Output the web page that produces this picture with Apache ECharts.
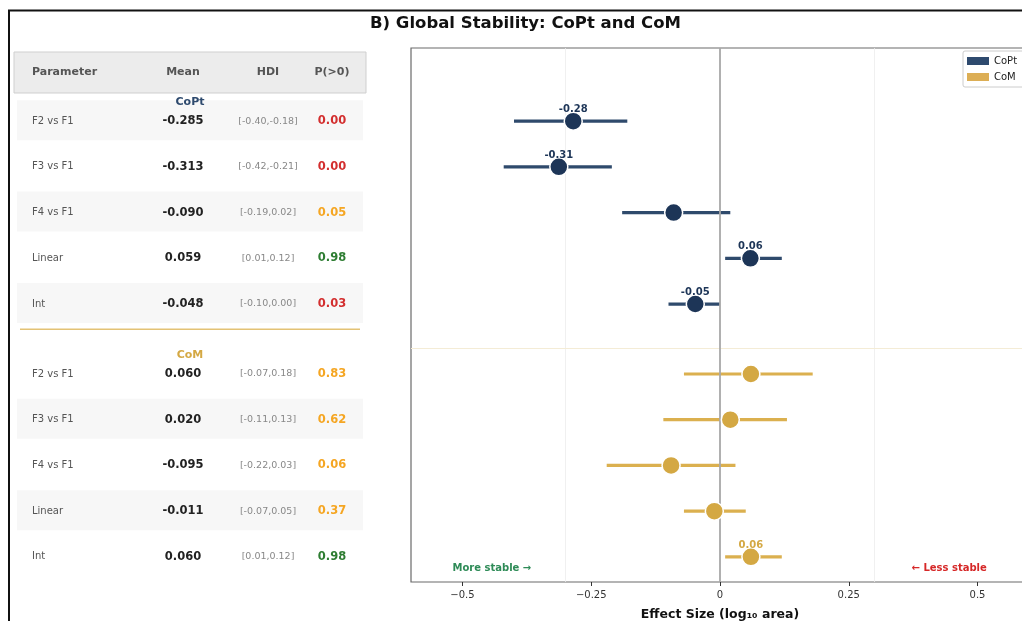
<!DOCTYPE html>
<html>
<head>
<meta charset="utf-8">
<script src="https://cdn.jsdelivr.net/npm/echarts@6/dist/echarts.min.js"></script>
<style>
  html, body { margin: 0; padding: 0; background: #fff; }
  #chart { width: 1022px; height: 621px; }
</style>
</head>
<body>
<div id="chart"></div>
<script>
// Posterior summaries per parameter (mean, 94% HDI bounds, probability of effect > 0)
const params = ['F2 vs F1', 'F3 vs F1', 'F4 vs F1', 'Linear', 'Int'];

const coptMean = [-0.285, -0.313, -0.090, 0.059, -0.048];
const coptLo   = [-0.40, -0.42, -0.19, 0.01, -0.10];
const coptHi   = [-0.18, -0.21, 0.02, 0.12, 0.00];
const coptP    = [0.00, 0.00, 0.05, 0.98, 0.03];

const comMean = [0.060, 0.020, -0.095, -0.011, 0.060];
const comLo   = [-0.07, -0.11, -0.22, -0.07, 0.01];
const comHi   = [0.18, 0.13, 0.03, 0.05, 0.12];
const comP    = [0.83, 0.62, 0.06, 0.37, 0.98];

const xTicks = [-0.5, -0.25, 0, 0.25, 0.5];

const FONT = 'DejaVu Sans';
const NAVY = '#1d3557', NAVY_LINE = '#2f4a6c';
const GOLD = '#d4a843', GOLD_LINE = '#dbb04f';

// vertical slot of each row: CoPt block first, CoM block after a half-row gap
const coptRows = params.map((_, i) => i);
const comRows = params.map((_, i) => i + 5.53);

function pColor(p) {
  if (p > 0.95) return '#2e7d32';
  if (p < 0.05) return '#d32f2f';
  return '#f5a623';
}
function credible(p) { return p > 0.95 || p < 0.05; }

function barData(lo, hi, rows) {
  return lo.map((v, i) => [v, hi[i], rows[i]]);
}
function dotData(mean, p, rows) {
  return mean.map((m, i) => ({ value: [m, rows[i]], label: { show: credible(p[i]) } }));
}
function errorBars(name, lo, hi, rows, color) {
  return {
    name: name,
    type: 'custom',
    silent: true,
    z: 3,
    encode: { x: [0, 1], y: 2 },
    data: barData(lo, hi, rows),
    renderItem: function (params, api) {
      const a = api.coord([api.value(0), api.value(2)]);
      const b = api.coord([api.value(1), api.value(2)]);
      return {
        type: 'line',
        shape: { x1: a[0], y1: a[1], x2: b[0], y2: b[1] },
        style: { stroke: color, lineWidth: 3.2, lineCap: 'butt' }
      };
    }
  };
}
function dots(name, mean, p, rows, color) {
  return {
    name: name,
    type: 'scatter',
    z: 5,
    symbol: 'circle',
    symbolSize: 18,
    itemStyle: { color: color, borderColor: '#fff', borderWidth: 1.5, opacity: 1 },
    label: {
      position: 'top', distance: -3,
      formatter: (d) => d.value[0].toFixed(2),
      color: color, fontFamily: FONT, fontWeight: 'bold', fontSize: 10
    },
    data: dotData(mean, p, rows)
  };
}

const chart = echarts.init(document.getElementById('chart'), null, { renderer: 'canvas' });

chart.setOption({
  animation: false,
  backgroundColor: '#fff',
  title: {
    text: 'B) Global Stability: CoPt and CoM',
    left: 365, top: 10,
    textStyle: { fontFamily: FONT, fontWeight: 'bold', fontSize: 16.5, color: '#111' }
  },
  legend: {
    orient: 'vertical',
    left: 963, top: 51,
    icon: 'rect',
    itemWidth: 22, itemHeight: 8, itemGap: 6,
    padding: [5, 40, 5, 4],
    backgroundColor: '#fff',
    borderColor: '#cccccc', borderWidth: 1, borderRadius: 2,
    textStyle: { fontFamily: FONT, fontSize: 10, color: '#222' },
    data: [
      { name: 'CoPt', itemStyle: { color: '#2e4a6e', borderWidth: 0 } },
      { name: 'CoM', itemStyle: { color: '#dcae55', borderWidth: 0 } }
    ]
  },
  grid: {
    left: 411, top: 48, width: 618, height: 534,
    outerBoundsMode: 'none', containLabel: false,
    show: true, borderColor: '#6a6a6a', borderWidth: 1.2, backgroundColor: '#fff'
  },
  xAxis: {
    type: 'value', min: -0.6, max: 0.6,
    name: 'Effect Size (log₁₀ area)',
    nameLocation: 'middle', nameGap: 26,
    nameTextStyle: { fontFamily: FONT, fontWeight: 'bold', fontSize: 12.5, color: '#111' },
    axisLine: { show: false, onZero: false },
    splitLine: { show: false },
    axisTick: { show: true, customValues: xTicks, length: 4, lineStyle: { color: '#333' } },
    axisLabel: {
      customValues: xTicks, margin: 8,
      fontFamily: FONT, fontSize: 10, color: '#333',
      formatter: (v) => (v === 0 ? '0' : String(v).replace('-', '−'))
    }
  },
  yAxis: {
    type: 'value', inverse: true, min: -1.6, max: 10.08,
    axisLine: { show: false, onZero: false }, axisTick: { show: false },
    axisLabel: { show: false }, splitLine: { show: false }
  },
  series: [
    {
      name: 'guides', type: 'line', data: [], silent: true, z: 1,
      markLine: {
        silent: true, symbol: 'none', animation: false,
        label: { show: false },
        data: [
          { xAxis: -0.3, lineStyle: { color: '#ececec', width: 0.8, type: 'solid' } },
          { xAxis: 0.3, lineStyle: { color: '#ececec', width: 0.8, type: 'solid' } },
          { yAxis: 4.97, lineStyle: { color: '#f4ecd6', width: 1, type: 'solid' } },
          { xAxis: 0, lineStyle: { color: '#a8a8a8', width: 1.8, type: 'solid' } }
        ]
      }
    },
    errorBars('CoPt HDI', coptLo, coptHi, coptRows, NAVY_LINE),
    errorBars('CoM HDI', comLo, comHi, comRows, GOLD_LINE),
    dots('CoPt', coptMean, coptP, coptRows, NAVY),
    dots('CoM', comMean, comP, comRows, GOLD)
  ]
});

// Summary table on the left, rows aligned with the forest plot rows
const yPix = (v) => chart.convertToPixel({ yAxisIndex: 0 }, v);
const xyPix = (x, y) => chart.convertToPixel({ gridIndex: 0 }, [x, y]);

const COL_NAME = 32, COL_MEAN = 183, COL_HDI = 268, COL_P = 332;
const g = [];

// outer figure frame
g.push({ type: 'rect', silent: true, z: 0,
  shape: { x: 9, y: 10.5, width: 1100, height: 700 },
  style: { fill: 'none', stroke: '#111', lineWidth: 2 } });

// header
g.push({ type: 'rect', shape: { x: 14, y: 52, width: 352, height: 41 },
  style: { fill: '#ececec', stroke: '#cfcfcf', lineWidth: 1 } });
const headStyle = { fontFamily: FONT, fontWeight: 'bold', fontSize: 11, fill: '#555', verticalAlign: 'middle' };
g.push({ type: 'text', x: COL_NAME, y: 72.5, style: Object.assign({ text: 'Parameter', align: 'left' }, headStyle) });
g.push({ type: 'text', x: COL_MEAN, y: 72.5, style: Object.assign({ text: 'Mean', align: 'center' }, headStyle) });
g.push({ type: 'text', x: COL_HDI, y: 72.5, style: Object.assign({ text: 'HDI', align: 'center' }, headStyle) });
g.push({ type: 'text', x: COL_P, y: 72.5, style: Object.assign({ text: 'P(>0)', align: 'center' }, headStyle) });

function tableBlock(mean, lo, hi, p, rows, startIndex) {
  params.forEach((name, i) => {
    const y = yPix(rows[i]);
    if ((startIndex + i) % 2 === 0) {
      g.push({ type: 'rect', z: 1, shape: { x: 17, y: y - 21, width: 346, height: 40 },
        style: { fill: '#f7f7f7' } });
    }
    g.push({ type: 'text', z: 2, x: COL_NAME, y: y, style: { text: name, align: 'left', verticalAlign: 'middle',
      fontFamily: FONT, fontSize: 10, fill: '#555' } });
    g.push({ type: 'text', z: 2, x: COL_MEAN, y: y, style: { text: mean[i].toFixed(3), align: 'center', verticalAlign: 'middle',
      fontFamily: FONT, fontWeight: 'bold', fontSize: 11.5, fill: '#222' } });
    g.push({ type: 'text', z: 2, x: COL_HDI, y: y, style: { text: '[' + lo[i].toFixed(2) + ',' + hi[i].toFixed(2) + ']',
      align: 'center', verticalAlign: 'middle', fontFamily: FONT, fontSize: 9.5, fill: '#888' } });
    g.push({ type: 'text', z: 2, x: COL_P, y: y, style: { text: p[i].toFixed(2), align: 'center', verticalAlign: 'middle',
      fontFamily: FONT, fontWeight: 'bold', fontSize: 11.5, fill: pColor(p[i]) } });
  });
}
tableBlock(coptMean, coptLo, coptHi, coptP, coptRows, 0);
tableBlock(comMean, comLo, comHi, comP, comRows, 5);

// group headings and divider
g.push({ type: 'text', z: 3, x: 190, y: yPix(-0.42), style: { text: 'CoPt', align: 'center', verticalAlign: 'middle',
  fontFamily: FONT, fontWeight: 'bold', fontSize: 11, fill: '#2e4a6e' } });
g.push({ type: 'text', z: 3, x: 190, y: yPix(5.11), style: { text: 'CoM', align: 'center', verticalAlign: 'middle',
  fontFamily: FONT, fontWeight: 'bold', fontSize: 11, fill: GOLD } });
const sepY = yPix(4.55);
g.push({ type: 'line', z: 3, shape: { x1: 20, y1: sepY, x2: 360, y2: sepY },
  style: { stroke: '#e3c274', lineWidth: 1.5 } });

// direction hints inside the plot
const moreP = xyPix(-0.443, 9.79);
const lessP = xyPix(0.445, 9.79);
g.push({ type: 'text', z: 10, x: moreP[0], y: moreP[1], style: { text: 'More stable →', align: 'center', verticalAlign: 'middle',
  fontFamily: FONT, fontWeight: 'bold', fontSize: 10, fill: '#2e8b57' } });
g.push({ type: 'text', z: 10, x: lessP[0], y: lessP[1], style: { text: '← Less stable', align: 'center', verticalAlign: 'middle',
  fontFamily: FONT, fontWeight: 'bold', fontSize: 10, fill: '#d62828' } });

chart.setOption({ graphic: g });
</script>
</body>
</html>
